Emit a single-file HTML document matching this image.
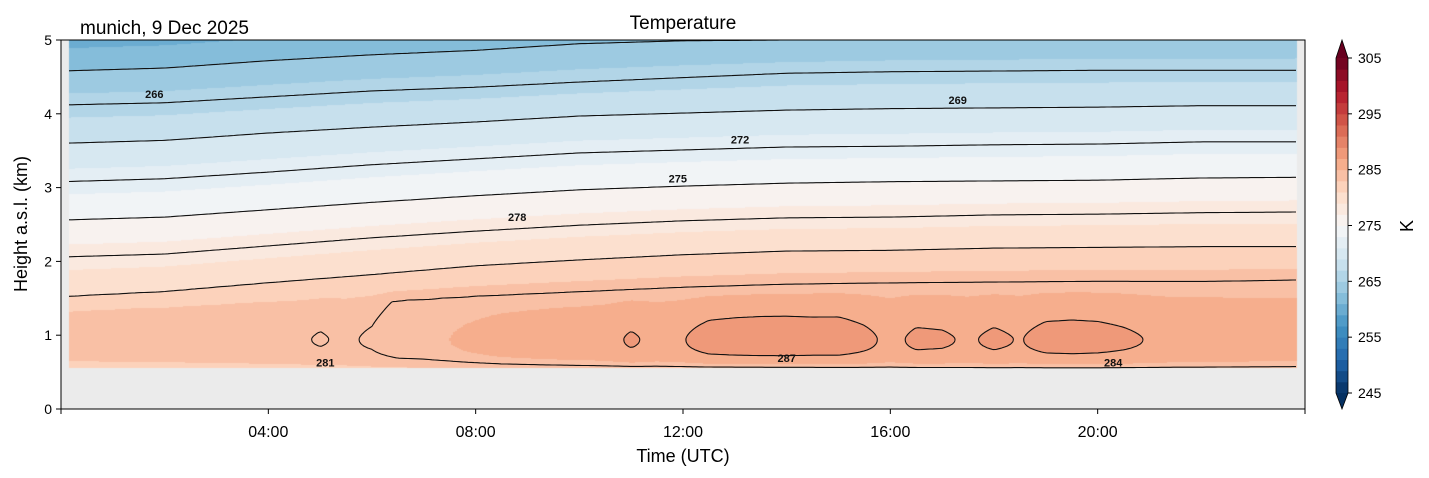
<!DOCTYPE html>
<html><head><meta charset="utf-8">
<style>
body{margin:0;background:#fff;}
#wrap{position:relative;width:1429px;height:478px;overflow:hidden;font-family:"Liberation Sans","DejaVu Sans",sans-serif;}
canvas,svg{position:absolute;left:0;top:0;}
</style></head>
<body>
<div id="wrap">
<canvas id="cv" width="1429" height="478"></canvas>
<svg id="sv" width="1429" height="478"></svg>
</div>
<script>
// ---- data ----
const hoursL = [0,2,4,6,8,10,12,14,16,18,20,22,24];
const contourLevels = [263,266,269,272,275,278,281,284];
const L263 = [4.58,4.62,4.72,4.80,4.86,4.95,4.99,5.00,5.03,5.04,5.05,5.05,5.07];
const L266 = [4.12,4.15,4.23,4.31,4.36,4.43,4.49,4.55,4.57,4.58,4.59,4.59,4.59];
const L269 = [3.60,3.64,3.74,3.82,3.89,3.97,4.01,4.05,4.07,4.08,4.09,4.11,4.11];
const L272 = [3.08,3.12,3.21,3.31,3.39,3.47,3.51,3.55,3.56,3.58,3.59,3.62,3.62];
const L275 = [2.56,2.60,2.70,2.80,2.89,2.97,3.02,3.06,3.08,3.09,3.10,3.13,3.14];
const L278 = [2.06,2.10,2.21,2.32,2.41,2.49,2.55,2.59,2.60,2.63,2.64,2.66,2.67];
const L281 = [1.52,1.59,1.71,1.82,1.94,2.02,2.09,2.14,2.15,2.18,2.19,2.20,2.20];
const L284 = [1.30,1.35,1.40,1.45,1.53,1.59,1.65,1.69,1.71,1.72,1.73,1.73,1.75];
const Tsurf = [282.3,282.4,282.5,282.8,283.0,283.3,283.5,283.6,283.7,283.8,283.8,283.7,283.6];
const hoursMax = [0,0.5,1,1.5,2,2.5,3,3.5,4,4.5,5,5.5,6,6.5,7,7.5,8,8.5,9,9.5,10,10.5,11,11.5,12,12.5,13,13.5,14,14.5,15,15.5,16,16.5,17,17.5,18,18.5,19,19.5,20,20.5,21,21.5,22,22.5,23,23.5,24];
const Tmax = [283.6,283.7,283.7,283.8,283.7,283.8,283.8,283.9,283.9,283.9,284.05,283.9,284.1,284.6,284.7,285.0,285.4,285.8,286.0,286.2,286.3,286.5,287.2,286.6,286.9,287.8,288.0,288.1,288.1,288.0,288.0,287.4,286.6,287.3,287.2,286.8,287.3,286.9,287.6,287.7,287.6,287.3,286.9,286.6,286.7,286.5,286.4,286.4,286.3];
const yTicks = [0,1,2,3,4,5];
const xTicks = [0,4,8,12,16,20,24];
const xTickLabels = ["","04:00","08:00","12:00","16:00","20:00",""];
const cbTicks = [245,255,265,275,285,295,305];
const lineLevels = [263,266,269,272,275,278,281,284,287];
const labelTexts = ["266","269","272","275","278","281","287","284"];
const labelTimes = [1.8,17.3,13.1,11.9,8.8,5.1,14.0,20.3];
const labelHeights = [4.27,4.19,3.65,3.12,2.60,0.63,0.69,0.63];

// ---- axes ----
const X0=61, X1=1305, Y0=409, Y1=40;
const xs = t => X0 + t*(X1-X0)/24;
const ys = h => Y0 - h*(Y0-Y1)/5;
const tOf = x => (x-X0)*24/(X1-X0);
const hOf = y => (Y0-y)*5/(Y0-Y1);
const HP = 0.95, HGROUND = 0.55, T0 = 0.15, T1 = 23.85;

function interp(xsA, ysA, x){
  if(x<=xsA[0]) return ysA[0];
  for(let i=1;i<xsA.length;i++){ if(x<=xsA[i]){const f=(x-xsA[i-1])/(xsA[i]-xsA[i-1]);return ysA[i-1]+f*(ysA[i]-ysA[i-1]);} }
  return ysA[ysA.length-1];
}
const Ls=[L263,L266,L269,L272,L275,L278,L281,L284];
function temp(t,h){
  const L = Ls.map(a=>interp(hoursL,a,t));
  const tm = interp(hoursMax,Tmax,t), ts = interp(hoursL,Tsurf,t);
  if(h>=L[0]) return 263 - 6.5*(h-L[0]);
  for(let k=0;k<6;k++){ if(h>=L[k+1]) return contourLevels[k] + (contourLevels[k+1]-contourLevels[k])*(L[k]-h)/(L[k]-L[k+1]); }
  const tl8 = tm>=284.5 ? 284 : tm-0.5;
  if(h>=L[7]) return 281 + (tl8-281)*(L[6]-h)/(L[6]-L[7]);
  if(h>=HP){ const f=(h-HP)/(L[7]-HP); return tm-(tm-tl8)*Math.pow(f,1.5); }
  const f=Math.max(0,(HP-h)/(HP-HGROUND)); return tm-(tm-ts)*Math.pow(f,2.5);
}
const anchors=[[5,48,97],[33,102,172],[67,147,195],[146,197,222],[209,229,240],[247,247,247],[253,219,199],[244,165,130],[214,96,77],[178,24,43],[103,0,31]];
function cmap(v){ v=Math.max(0,Math.min(1,v))*10; const i=Math.min(9,Math.floor(v)), f=v-i;
  return anchors[i].map((c,k)=>Math.round(c+f*(anchors[i+1][k]-c))); }
function binColor(T){ let b=Math.floor((T-245)/2); if(b<0) return [5,48,97]; if(b>29) return [103,0,31];
  return cmap((b+0.5)/30); }

// ---- fill ----
const cv=document.getElementById('cv'), ctx=cv.getContext('2d');
ctx.fillStyle='#ebebeb'; ctx.fillRect(X0,Y1,X1-X0,Y0-Y1);
const xa=Math.round(xs(T0)), xb=Math.round(xs(T1)), yb=Math.round(ys(HGROUND));
for(let x=xa;x<xb;x+=2){ const t=tOf(x+1);
  for(let y=Y1;y<yb;y+=1){ const c=binColor(temp(t,hOf(y+0.5))); ctx.fillStyle=`rgb(${c[0]},${c[1]},${c[2]})`; ctx.fillRect(x,y,2,1);} }

// ---- svg ----
const NS='http://www.w3.org/2000/svg', sv=document.getElementById('sv');
function mk(tag,attrs,parent){const e=document.createElementNS(NS,tag);for(const k in attrs)e.setAttribute(k,attrs[k]);(parent||sv).appendChild(e);return e;}

// contours (marching squares)
const gx=[],gy=[];
for(let x=xa;x<=xb;x+=3) gx.push(x);
for(let y=Y1;y<=yb;y+=2) gy.push(y);
const G=gy.map(y=>gx.map(x=>temp(tOf(x),hOf(y))));
const cg=mk('g',{});


lineLevels.forEach(lv=>{
  let d='';
  for(let j=0;j<gy.length-1;j++)for(let i=0;i<gx.length-1;i++){
    const v=[G[j][i],G[j][i+1],G[j+1][i+1],G[j+1][i]];
    const p=[[gx[i],gy[j]],[gx[i+1],gy[j]],[gx[i+1],gy[j+1]],[gx[i],gy[j+1]]];
    const pts=[];
    for(let e=0;e<4;e++){const a=v[e],b=v[(e+1)%4];
      if((a<lv)!==(b<lv)){const f=(lv-a)/(b-a);const A=p[e],B=p[(e+1)%4];pts.push([A[0]+f*(B[0]-A[0]),A[1]+f*(B[1]-A[1])]);}}
    for(let k=0;k+1<pts.length;k+=2) d+=`M${pts[k][0].toFixed(1)} ${pts[k][1].toFixed(1)}L${pts[k+1][0].toFixed(1)} ${pts[k+1][1].toFixed(1)}`;
  }
  if(d){const pa=mk('path',{d:d,fill:'none',stroke:'#111','stroke-width':1.1},cg);
    
    }
});
labelTexts.forEach((s,i)=>{
  const tx=mk('text',{x:xs(labelTimes[i]),y:ys(labelHeights[i])+4,'text-anchor':'middle','font-size':'11','font-weight':'bold',fill:'#111'});
  tx.textContent=s;
  
  
});

// frame
const fr=mk('rect',{x:X0,y:Y1,width:X1-X0,height:Y0-Y1,fill:'none',stroke:'#000','stroke-width':1});


yTicks.forEach(v=>{
  const y=ys(v);
  const tk=mk('line',{x1:X0-5,x2:X0,y1:y,y2:y,stroke:'#000'});
  
  
  const tl=mk('text',{x:X0-9,y:y+5,'text-anchor':'end','font-size':'14'});
  tl.textContent=v;
  
  
});
xTicks.forEach((v,i)=>{
  const x=xs(v);
  const tk=mk('line',{x1:x,x2:x,y1:Y0,y2:Y0+5,stroke:'#000'});
  
  
  const tl=mk('text',{x:x,y:Y0+28,'text-anchor':'middle','font-size':'16'});
  tl.textContent=xTickLabels[i];
  
  
});
function txt(s,a,name){const e=mk('text',a);e.textContent=s;return e;}
txt('Time (UTC)',{x:683,y:462,'text-anchor':'middle','font-size':'18'},'x-axis-title');
txt('Height a.s.l. (km)',{x:27,y:224,'text-anchor':'middle','font-size':'18',transform:'rotate(-90 27 224)'},'y-axis-title');
txt('Temperature',{x:683,y:29,'text-anchor':'middle','font-size':'19'},'chart-title');
txt('munich, 9 Dec 2025',{x:80,y:34,'font-size':'19'},'location-date-label');

// colorbar
const CX=1336, CW=12, CT=58, CB=393;
const cb=mk('g',{});


const cy=T=>CB-(T-245)*(CB-CT)/60;
for(let b=0;b<30;b++){const c=binColor(245+2*b+1);
  mk('rect',{x:CX,y:cy(247+2*b),width:CW,height:(CB-CT)/30+0.5,fill:`rgb(${c})`},cb);}
mk('polygon',{points:`${CX},${CT} ${CX+CW},${CT} ${CX+CW/2},${CT-18}`,fill:'rgb(103,0,31)'},cb);
mk('polygon',{points:`${CX},${CB} ${CX+CW},${CB} ${CX+CW/2},${CB+16}`,fill:'rgb(5,48,97)'},cb);
mk('polygon',{points:`${CX},${CT} ${CX+CW/2},${CT-18} ${CX+CW},${CT} ${CX+CW},${CB} ${CX+CW/2},${CB+16} ${CX},${CB}`,fill:'none',stroke:'#000','stroke-width':0.8},cb);
cbTicks.forEach(v=>{const y=cy(v);
  mk('line',{x1:CX+CW,x2:CX+CW+4,y1:y,y2:y,stroke:'#000'},cb);
  const t=mk('text',{x:CX+CW+10,y:y+5,'font-size':'14'},cb);t.textContent=v;
  
  
});
txt('K',{x:1413,y:226,'text-anchor':'middle','font-size':'18',transform:'rotate(-90 1413 226)'},'colorbar-title');
</script>
</body></html>
